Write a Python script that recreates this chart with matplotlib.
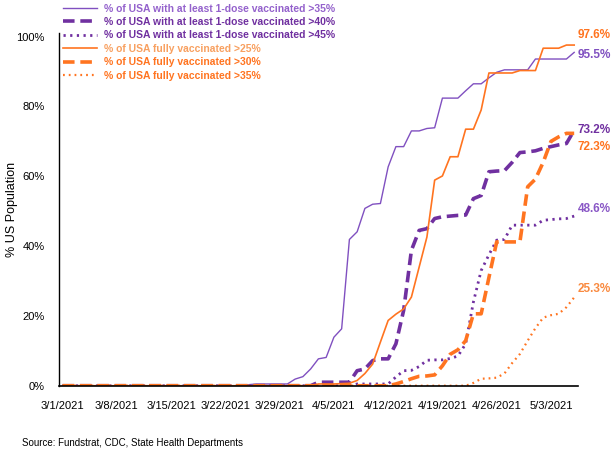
import matplotlib.pyplot as plt
import pandas as pd

# daily values (% of US population living in states above each threshold), 3/1/2021 - 5/6/2021
dates = pd.date_range('2021-03-01', '2021-05-06')
tick_labels = [f"{d.month}/{d.day}/{d.year}" for d in dates]

one_dose_35 = [0] * 24 + [0.3, 0.5, 0.5, 0.5, 0.5, 0.5, 1.9, 2.6, 4.8, 7.7, 8.1, 13.9, 16.3,
               41.9, 44.1, 50.8, 52.0, 52.2, 62.7, 68.5, 68.5, 73.0, 73.0, 73.7, 73.9,
               82.4, 82.4, 82.4, 84.5, 86.5, 86.5, 88.2, 89.8, 90.5, 90.5, 90.5, 90.5,
               93.6, 93.6, 93.6, 93.6, 93.6, 95.5]
one_dose_40 = [0] * 33 + [1.0, 1.0, 1.0, 1.0, 1.0, 4.3, 4.8, 7.2, 7.7, 7.7, 12.0, 21.6,
               38.8, 44.5, 45.0, 47.9, 48.4, 48.6, 48.8, 48.9, 53.6, 54.5, 61.3, 61.5,
               61.6, 64.0, 66.8, 67.0, 67.3, 68.0, 68.5, 69.0, 69.4, 73.2]
one_dose_45 = [0] * 38 + [0.5, 0.5, 0.5, 0.5, 0.5, 2.5, 4.3, 4.4, 5.5, 7.3, 7.4, 7.4, 7.8,
               8.5, 12.0, 24.0, 33.0, 37.5, 41.7, 41.9, 46.0, 46.0, 46.0, 46.0, 47.4,
               47.6, 47.8, 47.9, 48.6]
full_25 = [0] * 33 + [0.5, 0.5, 0.5, 0.6, 0.7, 1.5, 3.5, 6.2, 12.5, 18.7, 20.5, 22.0,
           25.4, 34.0, 42.6, 58.9, 60.1, 65.6, 65.6, 73.5, 73.5, 79.0, 89.6, 89.6,
           89.6, 89.6, 90.3, 90.3, 90.3, 96.7, 96.7, 96.7, 97.6, 97.6]
full_30 = [0] * 43 + [0.5, 1.2, 2.0, 2.7, 2.8, 3.1, 5.7, 9.0, 10.3, 12.9, 20.6, 20.6,
           31.0, 41.2, 41.2, 41.2, 41.2, 57.0, 59.2, 64.0, 70.0, 71.3, 72.3, 72.3]
full_35 = [0] * 53 + [0.8, 2.0, 2.1, 2.3, 3.5, 6.5, 9.1, 12.9, 16.5, 19.5, 20.2, 20.6,
           22.5, 25.3]

labels = ['% of USA with at least 1-dose vaccinated >35%',
          '% of USA with at least 1-dose vaccinated >40%',
          '% of USA with at least 1-dose vaccinated >45%',
          '% of USA fully vaccinated >25%',
          '% of USA fully vaccinated >30%',
          '% of USA fully vaccinated >35%']

plt.rcParams['font.family'] = ['Liberation Sans', 'DejaVu Sans']

purple_lt = '#8050C0'
purple = '#7030A0'
orange = '#FF7420'
orange_lt = '#F8A060'

# (values, color, linewidth, dashes, legend text color, end label color, end label y offset in pt)
series = [
    (one_dose_35, purple_lt, 1.0, None, '#9462CC', purple_lt, -2),
    (one_dose_40, purple, 2.6, (3.2, 1.6), purple, purple, 0),
    (one_dose_45, purple, 2.0, (0.8, 1.6), purple, '#8A58C6', 5),
    (full_25, orange, 1.2, None, orange_lt, orange, 7),
    (full_30, orange, 2.6, (3.2, 1.6), orange, orange, -10),
    (full_35, orange, 1.6, (0.8, 1.8), orange, '#F98A40', 6),
]

fig = plt.figure(figsize=(6.13, 4.54), dpi=100)
ax = fig.add_axes([0.0958, 0.1504, 0.8472, 0.7765])

x = list(range(len(dates)))
handles = []
for vals, col, lw, dashes, tcol, lcol, dy in series:
    if dashes is None:
        ln, = ax.plot(x, vals, color=col, lw=lw)
    else:
        ln, = ax.plot(x, vals, color=col, lw=lw, dashes=dashes)
    handles.append(ln)
    ax.annotate(f"{vals[-1]:.1f}%", xy=(x[-1], vals[-1]), xytext=(2.5, dy),
                textcoords='offset points', ha='left', va='center',
                color=lcol, fontsize=8.5, fontweight='bold')

ax.set_xlim(-0.5, len(dates) - 0.5)
ax.set_ylim(0, 101)
ax.set_xticks(x[::7])
ax.set_xticklabels(tick_labels[::7], fontsize=8)
ax.set_yticks([0, 20, 40, 60, 80, 100])
ax.set_yticklabels(['0%', '20%', '40%', '60%', '80%', '100%'], fontsize=8)
ax.tick_params(axis='both', length=0)
ax.tick_params(axis='x', pad=11)
ax.tick_params(axis='y', pad=10)
ax.set_ylabel('% US Population', fontsize=9)
ax.yaxis.set_label_coords(-0.078, 0.5)
for s in ['top', 'right']:
    ax.spines[s].set_visible(False)
ax.spines['left'].set_linewidth(1.0)
ax.spines['bottom'].set_linewidth(1.2)

leg = fig.legend(handles, labels, loc='upper left', bbox_to_anchor=(63 / 613, 1 - 3.5 / 454),
                 frameon=False, handlelength=3.3, handletextpad=0.65,
                 labelspacing=0.33, borderpad=0, borderaxespad=0,
                 prop={'weight': 'bold', 'size': 7.5})
for t, s in zip(leg.get_texts(), series):
    t.set_color(s[4])

fig.text(22 / 613, 1 - 443 / 454, 'Source: Fundstrat, CDC, State Health Departments',
         fontsize=7, va='center', ha='left')

fig.savefig('out.png', dpi=100)
